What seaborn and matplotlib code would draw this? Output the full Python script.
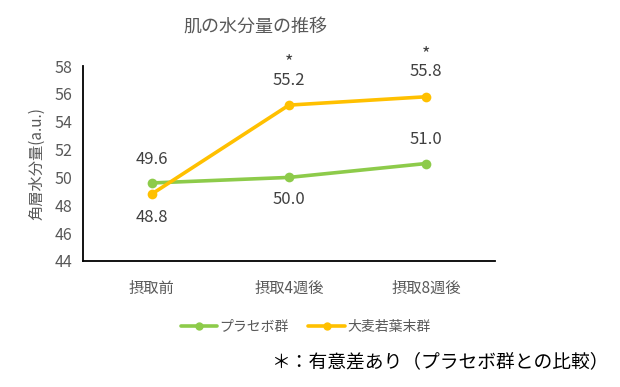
import matplotlib
matplotlib.use("Agg")
import matplotlib.pyplot as plt
import seaborn as sns
import pandas as pd
from matplotlib.lines import Line2D

categories = ["摂取前", "摂取4週後", "摂取8週後"]
placebo = [49.6, 50.0, 51.0]
barley = [48.8, 55.2, 55.8]
series_names = ["プラセボ群", "大麦若葉末群"]
yticks = [44, 46, 48, 50, 52, 54, 56, 58]

sns.set_theme(style="white")
plt.rcParams['font.family'] = ['Noto Sans CJK JP', 'DejaVu Sans']

df = pd.DataFrame({
    "x": list(range(len(categories))) * 2,
    "value": placebo + barley,
    "group": [series_names[0]] * 3 + [series_names[1]] * 3,
})

colors = {series_names[0]: "#8DCB4A", series_names[1]: "#FFC000"}
fig = plt.figure(figsize=(6.2, 3.87), dpi=100)
ax = fig.add_axes([0.134, 0.326, 0.664, 0.503])
sns.lineplot(data=df, x="x", y="value", hue="group", palette=colors,
             marker="o", markersize=7, markeredgewidth=0, linewidth=2.6,
             ax=ax, legend=False)

ax.set_xlim(-0.5, 2.5)
ax.set_ylim(44, 58)
ax.set_yticks(yticks)
ax.set_xticks(range(len(categories)))
ax.set_xticklabels(categories)
ax.tick_params(axis='y', length=0, labelsize=11.5, colors="#595959", pad=8)
ax.tick_params(axis='x', length=0, labelsize=11, colors="#595959", pad=14)
ax.set_xlabel("")
ax.set_ylabel("角層水分量(a.u.)", fontsize=11, color="#595959", labelpad=6)
for s in ["top", "right"]:
    ax.spines[s].set_visible(False)
for s in ["left", "bottom"]:
    ax.spines[s].set_color("black")
    ax.spines[s].set_linewidth(1.3)

txt = "#404040"
offsets_p = [(0, 17), (0, -16), (0, 17)]
offsets_b = [(0, -17), (0, 18), (0, 18)]
for i, v in enumerate(placebo):
    ax.annotate(f"{v:.1f}", (i, v), xytext=offsets_p[i], textcoords="offset points",
                ha="center", va="center", fontsize=12, color=txt)
for i, v in enumerate(barley):
    ax.annotate(f"{v:.1f}", (i, v), xytext=offsets_b[i], textcoords="offset points",
                ha="center", va="center", fontsize=12, color=txt)
    if i > 0:
        ax.annotate("*", (i, v), xytext=(0, 24.5), textcoords="offset points",
                    ha="center", va="bottom", fontsize=13, color=txt)

fig.text(0.412, 0.93, "肌の水分量の推移", ha="center", va="center", fontsize=13, color="#595959")

handles = [Line2D([0], [0], color=colors[n], lw=2.6, marker="o", markersize=6, markeredgewidth=0)
           for n in series_names]
fig.legend(handles, series_names, loc="center", bbox_to_anchor=(0.493, 0.155), ncol=2,
           frameon=False, fontsize=10, handlelength=2.6, handletextpad=0.2, columnspacing=1.4,
           labelcolor="#595959")

fig.text(0.982, 0.066, "＊：有意差あり（プラセボ群との比較）", ha="right", va="center",
         fontsize=13.5, color="black")

fig.savefig("out.png", dpi=100)
